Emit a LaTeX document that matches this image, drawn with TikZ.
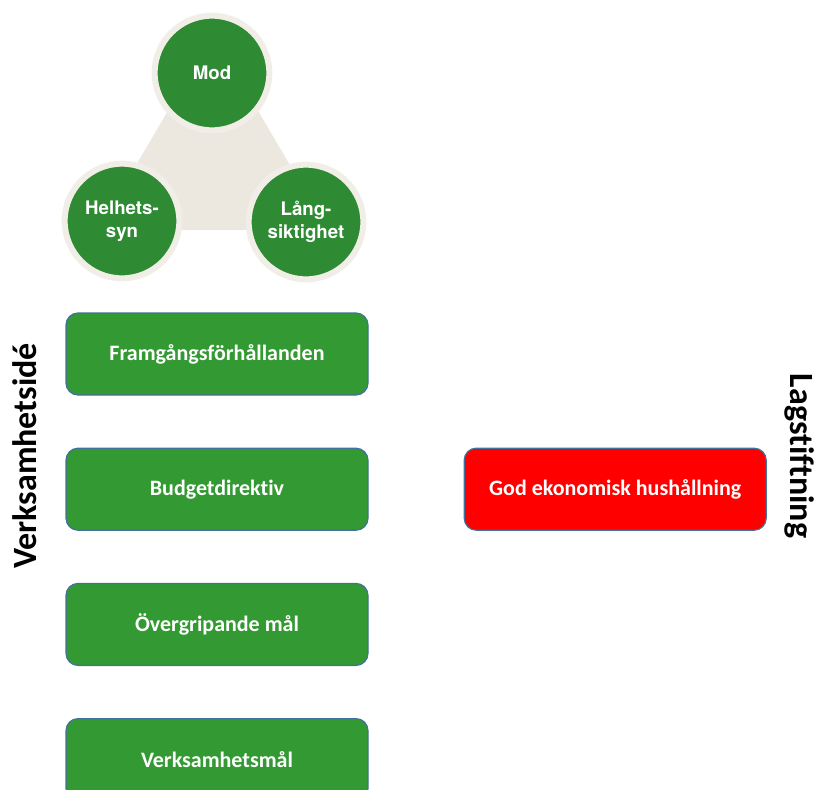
\documentclass[tikz,border=0pt]{standalone}
\usepackage{fontspec}
\setmainfont[Ligatures=NoCommon]{Carlito}
\newfontfamily\circfont{TeX Gyre Heros}
\usepackage{xcolor}
\usetikzlibrary{positioning}

\definecolor{boxgreen}{HTML}{339933}
\definecolor{circgreen}{HTML}{2E8B34}
\definecolor{ringbeige}{HTML}{F1EEE8}
\definecolor{tribeige}{HTML}{ECE8E0}
\definecolor{boxedge}{HTML}{41719C}
\definecolor{boxred}{HTML}{FF0000}

\begin{document}
\begin{tikzpicture}[
        x=0.75pt, y=-0.75pt,
        goalbox/.style={
          draw=boxedge,
          line width=0.9pt,
          fill=boxgreen,
          rounded corners=9pt,
          minimum width=226.5pt,
          minimum height=61.5pt,
          text=white,
          font=\bfseries\fontsize{16.5}{20}\selectfont
        },
        lawbox/.style={goalbox, fill=boxred},
        value/.style={
          circle,
          fill=circgreen,
          draw=ringbeige,
          line width=4.5pt,
          minimum size=86pt,
          align=center,
          text=white,
          font=\circfont\bfseries\fontsize{14}{17.5}\selectfont
        },
        sidelabel/.style={font=\bfseries\fontsize{25.5}{30}\selectfont}
      ]
        \useasboundingbox (0,0) rectangle (820,789);

        % triangle behind the values
        \fill[tribeige] (213,34) -- (98,230) -- (328,230) -- cycle;
        \node[value] (mod) at (212,73) {Mod};
        \node[value] (helhet) at (122,221) {Helhets-\\syn};
        \node[value] (langsikt) at (306,222) {Lång-\\siktighet};

        \node[goalbox] (framgang) at (217,354) {Framgångsförhållanden};
        \node[goalbox, below=39pt of framgang] (budget) {Budgetdirektiv};
        \node[goalbox, below=39pt of budget] (overgrip) {Övergripande mål};
        \node[goalbox, below=39pt of overgrip] (verksmal) {Verksamhetsmål};
        \node[lawbox, right=71.25pt of budget] (hushall) {God ekonomisk hushållning};

        \node[sidelabel, rotate=90] (verksidee) at (25,456) {Verksamhetsidé};
        \node[sidelabel, rotate=-90] (lagstift) at (800,456) {Lagstiftning};
      \end{tikzpicture}
\end{document}
